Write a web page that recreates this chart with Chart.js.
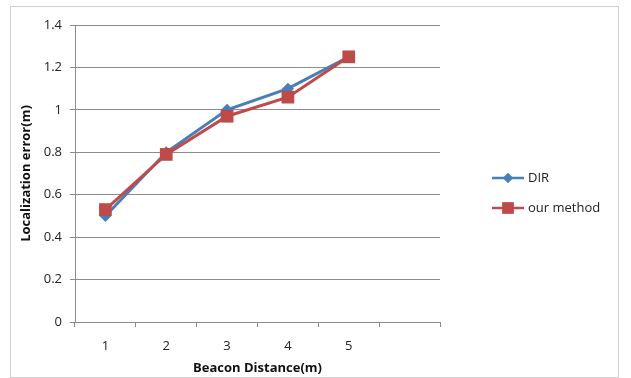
<!DOCTYPE html>
<html>
<head>
<meta charset="utf-8">
<script src="https://cdn.jsdelivr.net/npm/chart.js@4"></script>
<style>
  html, body { margin: 0; padding: 0; background: #fff; }
  #wrap { width: 631px; height: 378px; position: relative; }
</style>
</head>
<body>
<div id="wrap"><canvas id="grafico" width="631" height="378"></canvas></div>
<script>
// Datos
const distancias = ['1', '2', '3', '4', '5', ''];
const errorDIR = [0.50, 0.80, 1.00, 1.10, 1.25];
const errorNuestro = [0.53, 0.79, 0.97, 1.06, 1.25];
const ticksY = [0, 0.2, 0.4, 0.6, 0.8, 1, 1.2, 1.4];

const azul = '#4a7ebb';
const rojo = '#be4b48';
const fuente = '"Open Sans", Lato, sans-serif';

// Marco gris y leyenda dibujados a mano
const marcoYLeyenda = {
  id: 'marcoYLeyenda',
  afterDraw(chart) {
    const ctx = chart.ctx;
    ctx.save();
    ctx.strokeStyle = '#d0d0d0';
    ctx.lineWidth = 1;
    ctx.strokeRect(10.5, 6.5, 608, 371);

    const items = [
      { text: 'DIR', color: azul, style: 'rectRot', r: 5, y: 178 },
      { text: 'our method', color: rojo, style: 'rect', r: 8, y: 208 }
    ];
    items.forEach(it => {
      ctx.strokeStyle = it.color;
      ctx.lineWidth = 2.5;
      ctx.beginPath();
      ctx.moveTo(492, it.y);
      ctx.lineTo(524, it.y);
      ctx.stroke();
      ctx.fillStyle = it.color;
      Chart.helpers.drawPoint(ctx, { pointStyle: it.style, radius: it.r, borderWidth: 0 }, 508, it.y);
      ctx.fill();
      ctx.fillStyle = '#222';
      ctx.font = '13px ' + fuente;
      ctx.textBaseline = 'middle';
      ctx.fillText(it.text, 528, it.y);
    });
    ctx.restore();
  }
};

const ctx = document.getElementById('grafico').getContext('2d');
const grafico = new Chart(ctx, {
  type: 'line',
  data: {
    labels: distancias,
    datasets: [
      {
        label: 'our method',
        data: errorNuestro,
        borderColor: rojo,
        backgroundColor: rojo,
        borderWidth: 3,
        pointStyle: 'rect',
        pointRadius: 9,
        pointBorderWidth: 0,
        tension: 0,
        order: 0
      },
      {
        label: 'DIR',
        data: errorDIR,
        borderColor: azul,
        backgroundColor: azul,
        borderWidth: 3,
        pointStyle: 'rectRot',
        pointRadius: 6,
        pointBorderWidth: 0,
        tension: 0,
        order: 1
      }
    ]
  },
  options: {
    responsive: false,
    animation: false,
    layout: { padding: { left: 10, right: 191, top: 25, bottom: 0 } },
    plugins: { legend: { display: false }, tooltip: { enabled: false } },
    scales: {
      x: {
        offset: true,
        grid: {
          offset: true,
          drawOnChartArea: false,
          color: '#8c8c8c',
          tickLength: 5
        },
        border: { color: '#8c8c8c' },
        ticks: { color: '#222', font: { family: fuente, size: 13 }, padding: 11, maxRotation: 0 },
        title: {
          display: true,
          text: 'Beacon Distance(m)',
          color: '#111',
          font: { family: fuente, size: 13, weight: 'bold' },
          padding: { top: 0, bottom: 2 }
        },
        afterFit(s) { s.height = 56; }
      },
      y: {
        min: 0,
        max: 1.4,
        afterBuildTicks(s) { s.ticks = ticksY.map(v => ({ value: v })); },
        grid: { color: '#8c8c8c', tickLength: 5 },
        border: { color: '#8c8c8c' },
        ticks: {
          color: '#222',
          font: { family: fuente, size: 13 },
          padding: 8,
          callback: v => String(Math.round(v * 10) / 10)
        },
        title: {
          display: true,
          text: 'Localization error(m)',
          color: '#111',
          font: { family: fuente, size: 13, weight: 'bold' },
          padding: { top: 8, bottom: 0 }
        },
        afterFit(s) { s.width = 65; }
      }
    }
  },
  plugins: [marcoYLeyenda]
});
</script>
</body>
</html>
